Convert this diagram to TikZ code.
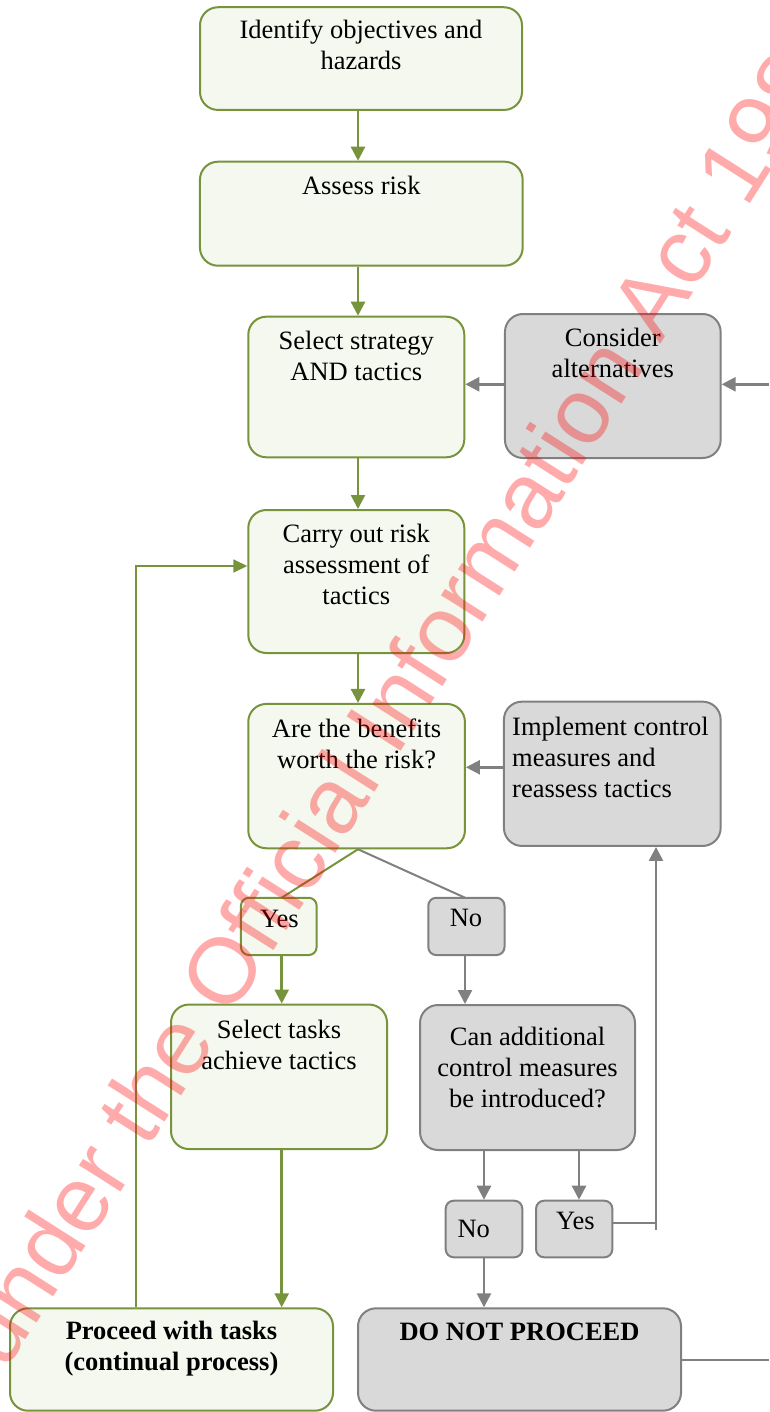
\documentclass[tikz,border=0pt]{standalone}
\usepackage{fontspec}
\setmainfont{Liberation Serif}
\newfontfamily\wmfont{Liberation Sans}
\usetikzlibrary{arrows.meta}

\definecolor{olive}{HTML}{77933C}
\definecolor{palegreen}{HTML}{F5F8EF}
\definecolor{boxgray}{HTML}{D9D9D9}
\definecolor{edgegray}{HTML}{808080}

\tikzset{
  box/.style={rectangle, rounded corners=18pt, line width=2pt, inner sep=0pt},
  gbox/.style={box, draw=olive, fill=palegreen},
  ybox/.style={box, draw=edgegray, fill=boxgray},
  gsmall/.style={gbox, rounded corners=8pt},
  ysmall/.style={ybox, rounded corners=8pt},
  txt/.style={inner sep=0pt, align=center, anchor=north,
    font=\fontsize{26.5}{31}\selectfont, execute at begin node={\strut}},
  word/.style={inner sep=0pt, anchor=base, font=\fontsize{26.5}{31}\selectfont},
  garrow/.style={draw=olive, line width=2.5pt, -{Triangle[length=14pt,width=14pt]}},
  yarrow/.style={draw=edgegray, line width=2.5pt, -{Triangle[length=14pt,width=14pt]}},
  gline/.style={draw=olive, line width=2pt},
  yline/.style={draw=edgegray, line width=2pt},
  stamp/.style={inner sep=0pt, anchor=base west, text=red, text opacity=0.33,
    font=\wmfont\fontsize{93}{93}\selectfont},
}

\begin{document}
\begin{tikzpicture}[x=1pt, y=-1pt]
\useasboundingbox (0,0) rectangle (769,1412);
\fill[white] (0,0) rectangle (769,1412);

% boxes
\node[gbox, minimum width=322pt, minimum height=102.7pt] (b1) at (361,58.6) {};
\node[gbox, minimum width=322.7pt, minimum height=104pt] (b2) at (361.3,213.7) {};
\node[gbox, minimum width=216pt, minimum height=140.6pt] (b3) at (356.3,387) {};
\node[ybox, minimum width=215.7pt, minimum height=144pt] (cons) at (612.8,386) {};
\node[gbox, minimum width=216pt, minimum height=143pt] (b4) at (356.3,581.5) {};
\node[gbox, minimum width=216.7pt, minimum height=144.3pt] (b5) at (356.6,776.1) {};
\node[ybox, minimum width=216.7pt, minimum height=144.3pt] (imp) at (612.3,773.8) {};
\node[gsmall, minimum width=75.7pt, minimum height=57.3pt] (yes1) at (278.8,926.4) {};
\node[ysmall, minimum width=76.2pt, minimum height=57.3pt] (no1) at (466.4,926.4) {};
\node[gbox, minimum width=216pt, minimum height=144.5pt] (sel) at (279,1076.8) {};
\node[ybox, minimum width=215pt, minimum height=145pt] (can) at (527.5,1077.5) {};
\node[ysmall, minimum width=76.6pt, minimum height=56.6pt] (no2) at (484,1229) {};
\node[ysmall, minimum width=76.3pt, minimum height=56.6pt] (yes2) at (574.2,1229) {};
\node[ybox, minimum width=323pt, minimum height=102.4pt] (dnp) at (519.5,1359.5) {};
\node[gbox, minimum width=323pt, minimum height=102.4pt] (proc) at (171.5,1359.5) {};

% labels
\node[txt] (b1t) at (361,19.6) {Identify objectives and\\hazards};
\node[txt] (b2t) at (361.3,173) {Assess risk};
\node[txt] (b3t) at (356.3,330.6) {Select strategy\\AND tactics};
\node[txt] (const) at (612.8,328) {Consider\\alternatives};
\node[txt] (b4t) at (356.3,524) {Carry out risk\\assessment of\\tactics};
\node[txt] (b5t) at (356.6,718.3) {Are the benefits\\worth the risk?};
\node[txt, align=left, anchor=north west] (impt) at (512,716.6) {Implement control\\measures and\\reassess tactics};
\node[word] (yes1t) at (279.5,927.5) {Yes};
\node[word] (no1t) at (466,926.5) {No};
\node[txt] (selt) at (279,1019.6) {Select tasks\\achieve tactics};
\node[txt] (cant) at (527.5,1027.3) {Can additional\\control measures\\be introduced?};
\node[word, anchor=base west] (no2t) at (457.3,1237) {No};
\node[word] (yes2t) at (575.3,1229.5) {Yes};
\node[txt, font=\bfseries\fontsize{26.5}{31}\selectfont] (dnpt) at (519.5,1318.3) {DO NOT PROCEED};
\node[txt, font=\bfseries\fontsize{26.5}{31}\selectfont] (proct) at (171.5,1320.6) {Proceed with tasks\\(continual process)};

% free ends and turning points
\coordinate (col) at (358,0);
\coordinate (inR) at (769,384.3);
\coordinate (outR) at (769,1359.5);
\coordinate (loopx) at (136,0);
\coordinate (upx) at (656,0);

% main column
\draw[garrow] (col |- b1.south) -- (col |- b2.north);
\draw[garrow] (col |- b2.south) -- (col |- b3.north);
\draw[garrow] (col |- b3.south) -- (col |- b4.north);
\draw[garrow] (col |- b4.south) -- (col |- b5.north);

% alternatives
\draw[yarrow] (inR) -- (cons.east |- inR);
\draw[yarrow] (cons.west |- inR) -- (b3.east |- inR);
\draw[yarrow] (imp.west |- 0,767.3) -- (b5.east |- 0,767.3);

% decision
\draw[gline] (col |- b5.south) -- (281.7,897.7);
\draw[yline] (col |- b5.south) -- (465,897.7);
\draw[garrow] (281.7,0 |- yes1.south) -- (281.7,0 |- sel.north);
\draw[yarrow] (465,0 |- no1.south) -- (465,0 |- can.north);
\draw[yarrow] (no2.north |- can.south) -- (no2.north);
\draw[yarrow] (579,0 |- can.south) -- (579,0 |- yes2.north);
\draw[yarrow] (no2.south) -- (no2.south |- dnp.north);
\draw[yline] (yes2.east |- 0,1222.7) -- (upx |- 0,1222.7);
\draw[yarrow] (upx |- 0,1229.5) -- (upx |- imp.south);
\draw[yline] (dnp.east) -- (outR);

% proceed
\draw[garrow] (281.7,0 |- sel.south) -- (281.7,0 |- proc.north);
\draw[draw=olive, line width=1.6pt, -{Triangle[length=14pt,width=13pt]}]
  (loopx |- proc.north) -- (loopx |- 0,566) -- (b4.west |- 0,566);

% release stamp
\begin{scope}
\clip (0,0) rectangle (769,1412);
\node[stamp, rotate=57.5] (stampt) at (-219.1,1725.1) {Released under the Official Information Act 1982};
\end{scope}
\end{tikzpicture}
\end{document}
